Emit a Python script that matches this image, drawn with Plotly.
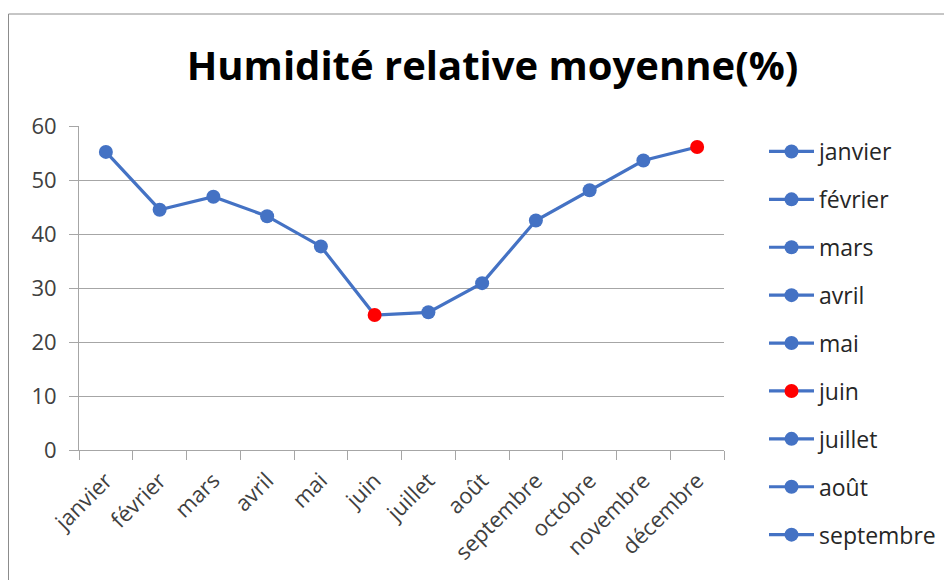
import plotly.graph_objects as go

months = ["janvier", "février", "mars", "avril", "mai", "juin", "juillet",
          "août", "septembre", "octobre", "novembre", "décembre"]
humidity = [55.2, 44.5, 46.9, 43.3, 37.7, 25.0, 25.5, 30.9, 42.5, 48.1, 53.6, 56.1]
highlighted = ["juin", "décembre"]
legend_months = months[:9]  # legend is cut off after "septembre" in the original
y_ticks = [0, 10, 20, 30, 40, 50, 60]

BLUE = "#4472C4"
RED = "#FF0000"
FONT = "Open Sans"

def color_for(m):
    return RED if m in highlighted else BLUE

fig = go.Figure()
fig.add_trace(go.Scatter(
    x=months, y=humidity, mode="lines+markers", showlegend=False,
    line=dict(color=BLUE, width=3.2),
    marker=dict(size=14, color=[color_for(m) for m in months]),
    hoverinfo="x+y",
))
for m in legend_months:
    fig.add_trace(go.Scatter(
        x=[None], y=[None], mode="lines+markers", name=m, legendgroup=m,
        line=dict(color=BLUE, width=3.2),
        marker=dict(size=14, color=color_for(m)),
    ))

# figure is drawn at an 8px body offset in the page
W, H = 944, 572
L, R, T, B = 71, 228, 118, 130
pw, ph = W - L - R, H - T - B

def px_x(p):
    return (p - L) / pw

def px_y(p):
    return (H - B - p) / ph

fig.add_shape(type="rect", xref="paper", yref="paper",
              x0=px_x(0.5), x1=px_x(980), y0=px_y(6), y1=px_y(620),
              line=dict(color="#8c8c8c", width=1), fillcolor="rgba(0,0,0,0)", layer="below")

fig.update_layout(
    width=W, height=H,
    margin=dict(l=L, r=R, t=T, b=B, autoexpand=False),
    paper_bgcolor="white", plot_bgcolor="white",
    font=dict(family=FONT, color="#404040", size=22),
    title=dict(text="Humidité relative moyenne(%)", x=484.5 / W, xanchor="center",
               xref="container", yref="container", y=1 - 57.5 / H, yanchor="middle",
               font=dict(family=FONT, size=40, color="black", weight=700)),
    legend=dict(x=px_x(756), xanchor="left", y=px_y(122), yanchor="top",
                traceorder="grouped", tracegroupgap=15, maxheight=560,
                font=dict(family=FONT, size=23, color="#262626"),
                itemwidth=45, bgcolor="rgba(0,0,0,0)"),
    xaxis=dict(type="category", range=[-0.5, len(months) - 0.5],
               showline=True, linecolor="#a6a6a6", linewidth=1,
               ticks="outside", tickson="boundaries", ticklen=9, tickcolor="#a6a6a6",
               tickangle=-45, showgrid=False, ticklabelstandoff=8,
               tickfont=dict(size=22, color="#404040")),
    yaxis=dict(range=[0, 60], tickvals=y_ticks, showline=True, linecolor="#a6a6a6",
               linewidth=1, ticks="outside", ticklen=9, tickcolor="#a6a6a6",
               showgrid=True, gridcolor="#a6a6a6", gridwidth=1, zeroline=False,
               ticklabelstandoff=8, tickfont=dict(size=22, color="#404040")),
    showlegend=True,
)

fig.write_html("out.html")
